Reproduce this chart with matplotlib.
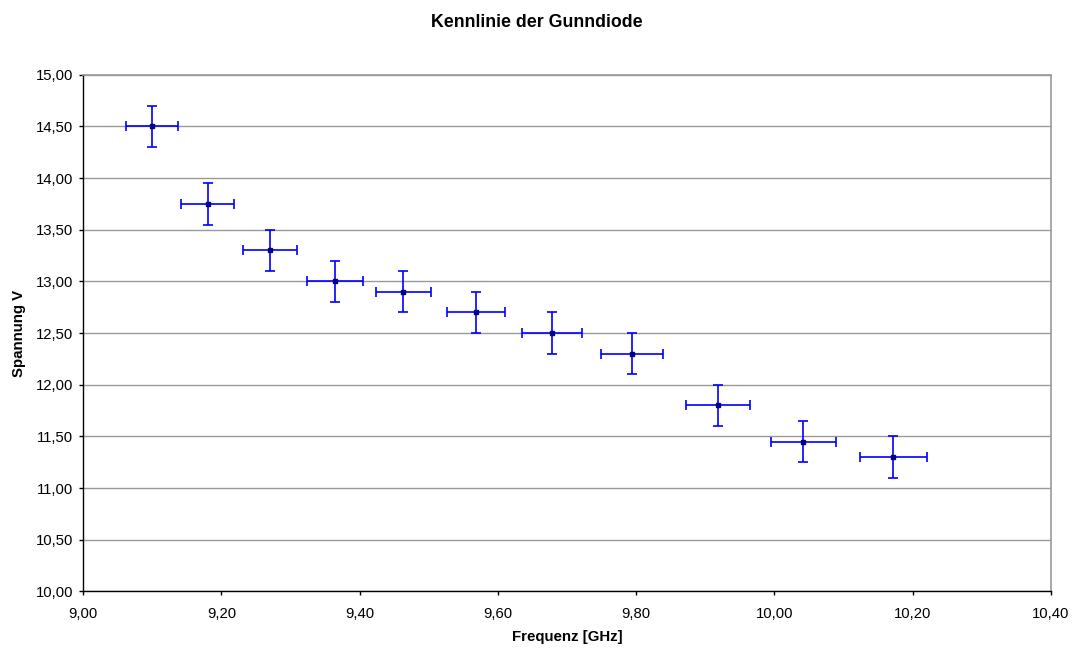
import matplotlib
matplotlib.use('Agg')
import matplotlib.pyplot as plt
from matplotlib.ticker import FuncFormatter, MultipleLocator

plt.rcParams['font.family'] = ['Liberation Sans', 'DejaVu Sans']

# Messwerte
frequenz = [9.100, 9.180, 9.270, 9.364, 9.463, 9.568, 9.678, 9.794, 9.918, 10.042, 10.172]
spannung = [14.50, 13.75, 13.30, 13.00, 12.90, 12.70, 12.50, 12.30, 11.80, 11.45, 11.30]
f_fehler = [0.0376, 0.0386, 0.0393, 0.0402, 0.0399, 0.0422, 0.0437, 0.0448, 0.0460, 0.0474, 0.0485]
u_fehler = [0.2] * len(spannung)

fig = plt.figure(figsize=(10.73, 6.48), dpi=100)
ax = fig.add_axes([0.0774, 0.0872, 0.9021, 0.7975])

ax.errorbar(frequenz, spannung, xerr=f_fehler, yerr=u_fehler, fmt='s',
            color='#0000ff', ecolor='#0000ff', elinewidth=1.2, capsize=3.5,
            capthick=1.2, markersize=2.8, markerfacecolor='#000080',
            markeredgecolor='#000080', zorder=3)

ax.set_xlim(9.0, 10.4)
ax.set_ylim(10.0, 15.0)
ax.xaxis.set_major_locator(MultipleLocator(0.2))
ax.yaxis.set_major_locator(MultipleLocator(0.5))
komma = FuncFormatter(lambda v, p: f'{v:.2f}'.replace('.', ','))
ax.xaxis.set_major_formatter(komma)
ax.yaxis.set_major_formatter(komma)

ax.grid(axis='y', color='#999999', linewidth=1.0, zorder=0)
ax.set_axisbelow(True)
for s in ['top', 'right']:
    ax.spines[s].set_color('#999999')
    ax.spines[s].set_linewidth(1.2)
for s in ['left', 'bottom']:
    ax.spines[s].set_color('black')
    ax.spines[s].set_linewidth(1.0)

ax.tick_params(axis='both', direction='out', length=3, width=1, labelsize=10.7, pad=4)
ax.tick_params(axis='x', pad=8)

ax.set_xlabel('Frequenz [GHz]', fontsize=10.8, fontweight='bold', labelpad=7)
ax.set_ylabel('Spannung V', fontsize=10.8, fontweight='bold', labelpad=7)
fig.suptitle('Kennlinie der Gunndiode', fontsize=12.8, fontweight='bold', x=0.5, y=0.978)

fig.savefig('out.png', dpi=100)
